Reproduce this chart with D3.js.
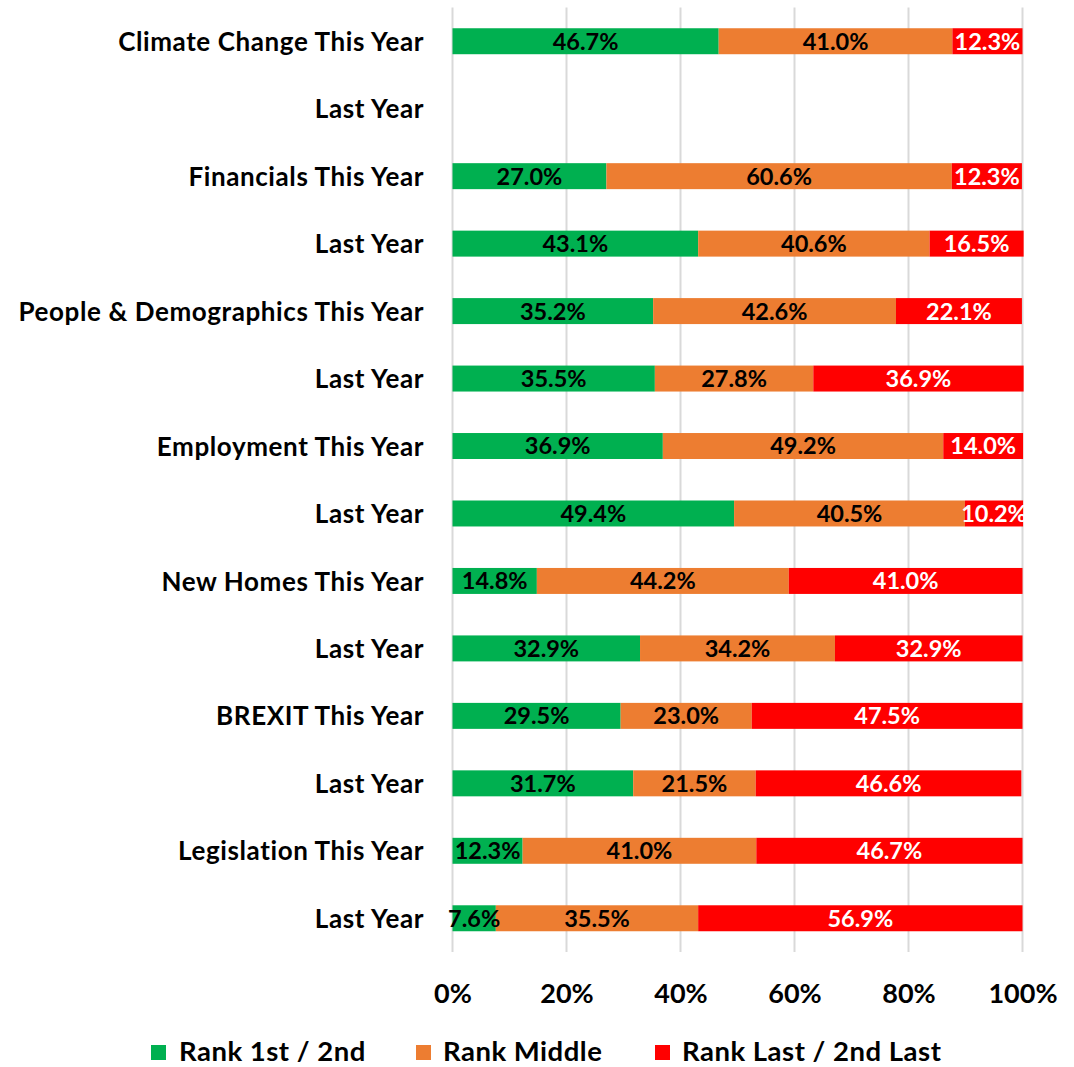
<!DOCTYPE html>
<html><head><meta charset="utf-8">
<script src="https://cdn.jsdelivr.net/npm/d3@7"></script>
<style>body{margin:0;background:#fff}svg{display:block}text{font-family:Lato,"Open Sans",sans-serif;font-weight:bold}</style>
</head><body><svg id="c" width="1074" height="1067"></svg>
<script>
const categories = ["Climate Change This Year","Last Year","Financials This Year","Last Year","People & Demographics This Year","Last Year","Employment This Year","Last Year","New Homes This Year","Last Year","BREXIT This Year","Last Year","Legislation This Year","Last Year"];
const rankTop =    [46.7, null, 27.0, 43.1, 35.2, 35.5, 36.9, 49.4, 14.8, 32.9, 29.5, 31.7, 12.3, 7.6];
const rankMiddle = [41.0, null, 60.6, 40.6, 42.6, 27.8, 49.2, 40.5, 44.2, 34.2, 23.0, 21.5, 41.0, 35.5];
const rankLast =   [12.3, null, 12.3, 16.5, 22.1, 36.9, 14.0, 10.2, 41.0, 32.9, 47.5, 46.6, 46.7, 56.9];
const seriesNames = ["Rank 1st / 2nd","Rank Middle","Rank Last / 2nd Last"];
const colors = ["#00B050","#ED7D31","#FF0000"];
const labelColors = ["#000","#000","#fff"];
const xTicks = [0,20,40,60,80,100];

const svg = d3.select("#c");
const x = d3.scaleLinear().domain([0,100]).range([452.5,1022.5]);
const y = d3.scaleBand().domain(d3.range(categories.length)).range([7.5,952]).paddingInner(0.615).paddingOuter(0.3075);

// grid
svg.append("g").selectAll("line").data(xTicks).join("line")
  .attr("x1",d=>x(d)).attr("x2",d=>x(d)).attr("y1",7.5).attr("y2",952)
  .attr("stroke","#d9d9d9").attr("stroke-width",2);

const rows = categories.map((c,i)=>({i, vals:[rankTop[i],rankMiddle[i],rankLast[i]]}));
const segs = [];
rows.forEach(r=>{ if(r.vals[0]==null) return; let acc=0; r.vals.forEach((v,k)=>{segs.push({i:r.i,k,v,x0:acc,x1:acc+v}); acc+=v;});});

svg.append("g").selectAll("rect").data(segs).join("rect")
  .attr("x",d=>x(d.x0)).attr("width",d=>x(d.x1)-x(d.x0))
  .attr("y",d=>y(d.i)).attr("height",y.bandwidth())
  .attr("fill",d=>colors[d.k]);

svg.append("g").selectAll("text").data(segs).join("text")
  .attr("x",d=>(x(d.x0)+x(d.x1))/2).attr("y",d=>y(d.i)+y.bandwidth()/2)
  .attr("dy","0.36em").attr("text-anchor","middle").attr("font-size",23.5)
  .attr("fill",d=>labelColors[d.k]).text(d=>d.v.toFixed(1)+"%");

// category labels
svg.append("g").selectAll("text").data(categories).join("text")
  .attr("x",424).attr("y",(d,i)=>y(i)+y.bandwidth()/2).attr("dy","0.37em")
  .attr("text-anchor","end").attr("font-size",26).attr("letter-spacing",0.6).attr("fill","#000").text(d=>d);

// x axis labels
const ax = svg.append("g").attr("transform","translate(0,952)")
  .call(d3.axisBottom(x).tickValues(xTicks).tickFormat(d=>d+"%").tickSize(0).tickPadding(32));
ax.select(".domain").remove();
ax.selectAll("text").attr("font-size",27).attr("fill","#000").attr("font-family","Lato,sans-serif").attr("font-weight","bold").attr("dy",null).attr("y",51);

// legend
const lg = [{x:151,t:179},{x:416,t:443},{x:655,t:682}];
const leg = svg.append("g");
seriesNames.forEach((n,k)=>{
  leg.append("rect").attr("x",lg[k].x).attr("y",1045).attr("width",15).attr("height",15).attr("fill",colors[k]);
  leg.append("text").attr("x",lg[k].t).attr("y",1061).attr("font-size",27.5).attr("letter-spacing",0.5).attr("fill","#000").text(n);
});
</script></body></html>
